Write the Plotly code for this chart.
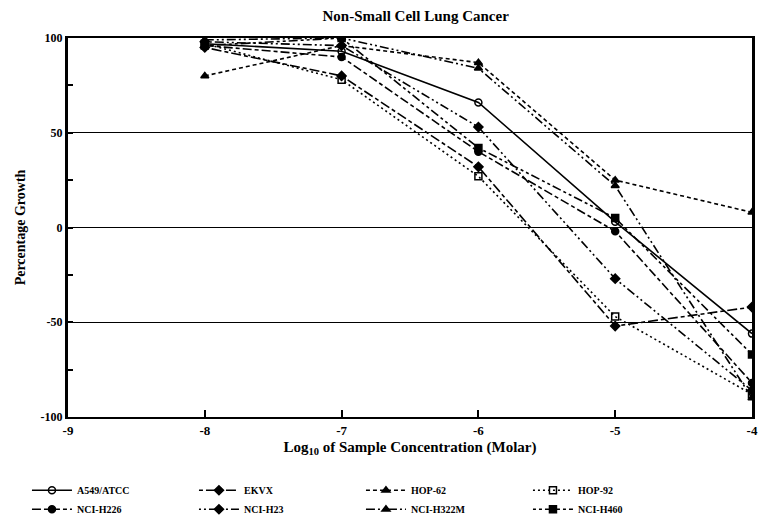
import plotly.graph_objects as go

log_conc = [-8, -7, -6, -5, -4]
x_ticks = [-9, -8, -7, -6, -5, -4]
x_ticklabels = ["-9", "-8", "-7", "-6", "-5", "-4"]
y_ticks = [-100, -50, 0, 50, 100]
y_ticklabels = ["-100", "-50", "0", "50", "100"]

a549_atcc = [97, 93, 66, 3, -56]
ekvx = [95, 80, 32, -52, -42]
hop_62 = [80, 96, 87, 25, 8]
hop_92 = [97, 78, 27, -47, -88]
nci_h226 = [96, 90, 40, -2, -82]
nci_h23 = [98, 96, 53, -27, -86]
nci_h322m = [99, 100, 84, 22, -90]
nci_h460 = [96, 100, 42, 5, -67]

series = [
    ("A549/ATCC", a549_atcc, "solid", "circle-open"),
    ("EKVX", ekvx, "4px,3px,10px,3px", "diamond"),
    ("HOP-62", hop_62, "4px,3px", "triangle-up"),
    ("HOP-92", hop_92, "2px,3px", "square-open"),
    ("NCI-H226", nci_h226, "9px,3px,4px,3px", "circle"),
    ("NCI-H23", nci_h23, "2px,3px,2px,3px,9px,3px", "diamond"),
    ("NCI-H322M", nci_h322m, "9px,3px,2px,3px,2px,3px", "triangle-up"),
    ("NCI-H460", nci_h460, "3px,3px,3px,3px,9px,3px", "square"),
]

fig = go.Figure()
for name, vals, dash, sym in series:
    fig.add_trace(go.Scatter(
        x=log_conc, y=vals, name=name, mode="lines+markers",
        line=dict(color="black", width=1.6, dash=dash),
        marker=dict(symbol=sym, size=7, color="black",
                    line=dict(color="black", width=1.5)),
    ))

fig.update_layout(
    width=762, height=509,
    margin=dict(l=60, r=18, t=30, b=100, autoexpand=False),
    paper_bgcolor="white", plot_bgcolor="white",
    font=dict(family="Liberation Serif", color="black", size=13),
    title=dict(text="<b>Non-Small Cell Lung Cancer</b>", x=0.535, xanchor="center",
               y=1.0, yanchor="top", pad=dict(t=2),
               font=dict(family="Liberation Serif", size=15, color="black")),
    showlegend=True,
    legend=dict(orientation="h", x=-0.06, y=-0.155, xanchor="left", yanchor="top",
                entrywidth=112, entrywidthmode="pixels",
                font=dict(family="Liberation Serif", size=10, color="black", weight="bold"),
                tracegroupgap=0, itemwidth=40, bgcolor="rgba(0,0,0,0)"),
)

fig.update_xaxes(
    range=[-9, -4], tickvals=x_ticks, ticktext=x_ticklabels,
    showgrid=False, zeroline=False,
    showline=True, linecolor="black", linewidth=2, mirror=True,
    ticks="inside", ticklen=7, tickwidth=2, tickcolor="black",
    tickfont=dict(family="Liberation Serif", size=13, weight="bold"),
    title=dict(text="<b>Log<sub>10</sub> of Sample Concentration (Molar)</b>",
               font=dict(family="Liberation Serif", size=15), standoff=5),
)
fig.update_yaxes(
    range=[-100, 100], tickvals=y_ticks, ticktext=y_ticklabels,
    showgrid=True, gridcolor="black", gridwidth=1.2, zeroline=False,
    showline=True, linecolor="black", linewidth=3, mirror=True,
    ticks="inside", ticklen=5, tickwidth=2, tickcolor="black",
    minor=dict(tickvals=[-75, -25, 25, 75], ticks="inside", ticklen=5,
               tickcolor="black", tickwidth=2, showgrid=False),
    tickfont=dict(family="Liberation Serif", size=12, weight="bold"),
    title=dict(text="<b>Percentage Growth</b>",
               font=dict(family="Liberation Serif", size=14), standoff=12),
)

fig.write_html("out.html")
